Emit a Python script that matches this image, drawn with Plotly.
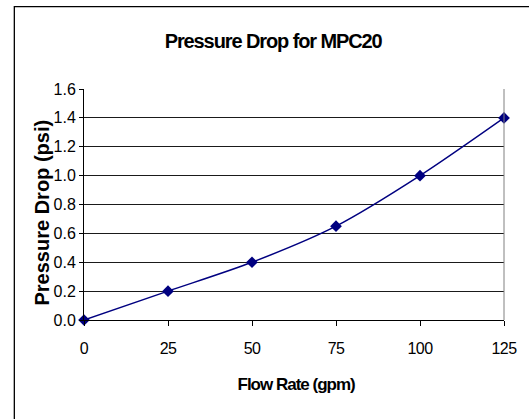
import plotly.graph_objects as go

flow_rate = [0, 25, 50, 75, 100, 125]
pressure_drop = [0.0, 0.2, 0.4, 0.65, 1.0, 1.4]
x_ticks = [0, 25, 50, 75, 100, 125]
y_ticks = [0.0, 0.2, 0.4, 0.6, 0.8, 1.0, 1.2, 1.4, 1.6]

title_text = "Pressure Drop for MPC20"
x_title = "Flow Rate (gpm)"
y_title = "Pressure Drop (psi)"

W, H = 529, 419
ML, MR, MT, MB = 84, 17, 88.5, 99
PW = W - ML - MR
PH = H - MT - MB

navy = "#000080"

fig = go.Figure()
fig.add_trace(go.Scatter(
    x=flow_rate, y=pressure_drop, mode="lines+markers",
    line=dict(color=navy, width=1.5, shape="spline", smoothing=0.8),
    marker=dict(symbol="diamond", size=9, color=navy),
    cliponaxis=False, showlegend=False, hoverinfo="skip",
))

regular = "Liberation Sans, Arial, sans-serif"

fig.update_layout(
    width=W, height=H,
    margin=dict(l=ML, r=MR, t=MT, b=MB, pad=0),
    paper_bgcolor="white", plot_bgcolor="white",
    font=dict(family=regular, size=16, color="black"),
    xaxis=dict(
        range=[0, 125], tickvals=x_ticks, ticktext=[str(v) for v in x_ticks],
        showgrid=False, zeroline=False, showline=True, linecolor="black", linewidth=1,
        ticks="outside", ticklen=5, tickcolor="black", ticklabelstandoff=9,
        tickfont=dict(family=regular, size=16),
    ),
    yaxis=dict(
        range=[0, 1.6], tickvals=y_ticks, ticktext=[f"{v:.1f}" for v in y_ticks],
        showgrid=True, gridcolor="#1a1a1a", gridwidth=1,
        zeroline=False, showline=True, linecolor="black", linewidth=1,
        ticks="outside", ticklen=4, tickcolor="black",
        tickfont=dict(family=regular, size=16),
    ),
)

# titles
fig.add_annotation(text="<b>" + title_text + "</b>", xref="paper", yref="paper",
                   x=0, y=1, xshift=273 - ML, yshift=MT - 40,
                   xanchor="center", yanchor="middle", showarrow=False,
                   font=dict(family=regular, size=20, color="black"))
fig.add_annotation(text="<b>" + x_title + "</b>", xref="paper", yref="paper",
                   x=0.5, y=0, yshift=-(384 - (H - MB)), xshift=2,
                   xanchor="center", yanchor="middle", showarrow=False,
                   font=dict(family=regular, size=17, color="black"))
fig.add_annotation(text="<b>" + y_title + "</b>", xref="paper", yref="paper",
                   x=0, y=0.5, xshift=-(ML - 41), yshift=-8,
                   xanchor="center", yanchor="middle", textangle=-90, showarrow=False,
                   font=dict(family=regular, size=20, color="black"))

# plot-area right border (gray)
fig.add_shape(type="line", xref="paper", yref="paper", x0=1, x1=1, y0=0, y1=1,
              line=dict(color="#808080", width=1))

# outer chart frame (left and top edges visible)
fx0 = (13 - ML) / PW
fx1 = (W + 20 - ML) / PW
fy1 = (H - MB - 6) / PH
fy0 = (H - MB - (H + 20)) / PH
fig.add_shape(type="rect", xref="paper", yref="paper", x0=fx0, x1=fx1, y0=fy0, y1=fy1,
              line=dict(color="black", width=1.3), fillcolor="rgba(0,0,0,0)", layer="below")

post = """
document.body.style.margin='0';
document.body.style.overflow='hidden';
var ann = document.querySelectorAll('.annotation-text');
ann.forEach(function(el){
  var t = el.textContent;
  if (t.indexOf('MPC20') >= 0) { el.style.letterSpacing = '-1.1px'; }
  else if (t.indexOf('Flow') >= 0) { el.style.letterSpacing = '-1px'; }
});
var xt = document.querySelectorAll('.xtick text');
xt.forEach(function(el){ el.style.letterSpacing = '-0.6px'; });
"""
fig.write_html("out.html", post_script=post,
               config={"displayModeBar": False, "staticPlot": True})
